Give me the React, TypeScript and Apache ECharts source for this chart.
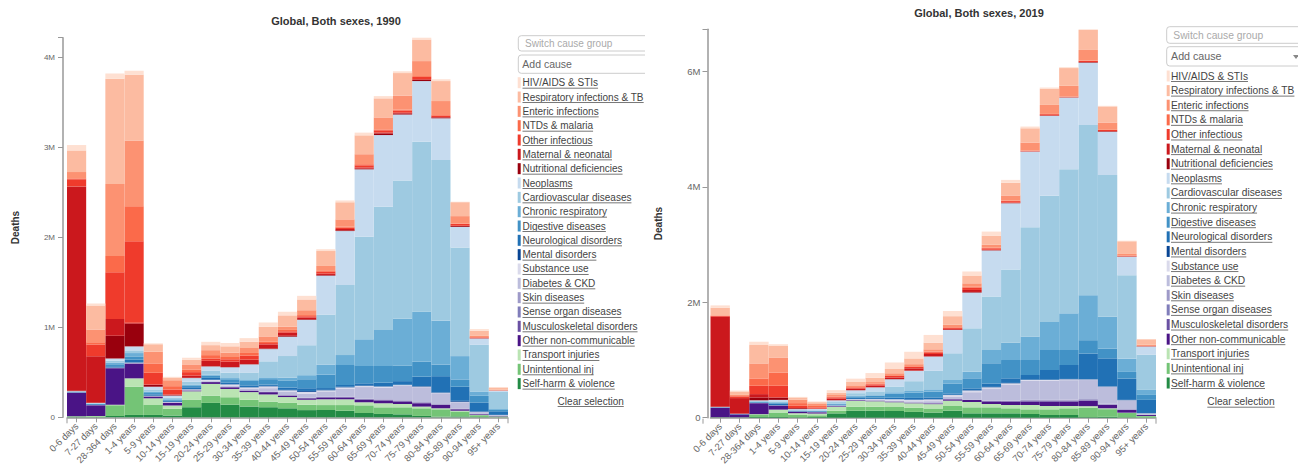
import React, { useEffect, useRef } from 'react';
import * as echarts from 'echarts';

const ages = ['0-6 days', '7-27 days', '28-364 days', '1-4 years', '5-9 years', '10-14 years', '15-19 years', '20-24 years', '25-29 years', '30-34 years', '35-39 years', '40-44 years', '45-49 years', '50-54 years', '55-59 years', '60-64 years', '65-69 years', '70-74 years', '75-79 years', '80-84 years', '85-89 years', '90-94 years', '95+ years'];

const causes = ['HIV/AIDS & STIs', 'Respiratory infections & TB', 'Enteric infections', 'NTDs & malaria', 'Other infectious', 'Maternal & neonatal', 'Nutritional deficiencies', 'Neoplasms', 'Cardiovascular diseases', 'Chronic respiratory', 'Digestive diseases', 'Neurological disorders', 'Mental disorders', 'Substance use', 'Diabetes & CKD', 'Skin diseases', 'Sense organ diseases', 'Musculoskeletal disorders', 'Other non-communicable', 'Transport injuries', 'Unintentional inj', 'Self-harm & violence'];

const causeColors = ['#fee0d2', '#fcbba1', '#fc9272', '#fb6a4a', '#ef3b2c', '#cb181d', '#99000d', '#c6dbef', '#9ecae1', '#6baed6', '#4292c6', '#2171b5', '#084594', '#dadaeb', '#bcbddc', '#9e9ac8', '#807dba', '#6a51a3', '#4a1486', '#bae4b3', '#74c476', '#238b45'];

// 1990 deaths, millions
const hiv1990 = [0.06, 0.022, 0.06, 0.046, 0.01, 0.008, 0.023, 0.037, 0.037, 0.04, 0.048, 0.04, 0.04, 0.02, 0.02, 0.03, 0.025, 0.02, 0.02, 0.02, 0.005, 0.018, 0.003];
const resp1990 = [0.24, 0.267, 1.17, 0.73, 0.083, 0.03, 0.051, 0.056, 0.07, 0.07, 0.107, 0.125, 0.12, 0.166, 0.19, 0.21, 0.212, 0.25, 0.24, 0.222, 0.155, 0.057, 0.025];
const enteric1990 = [0.07, 0.141, 0.8, 0.73, 0.13, 0.066, 0.06, 0.055, 0.049, 0.055, 0.056, 0.037, 0.054, 0.055, 0.082, 0.111, 0.133, 0.156, 0.167, 0.155, 0.082, 0.015, 0.005];
const ntd1990 = [0.01, 0.026, 0.18, 0.39, 0.104, 0.037, 0.026, 0.037, 0.025, 0.03, 0.018, 0.015, 0.013, 0.01, 0.01, 0.012, 0.01, 0.01, 0.01, 0.008, 0.005, 0.002, 0];
const otherInf1990 = [0.08, 0.13, 0.52, 0.905, 0.13, 0.056, 0.037, 0.026, 0.026, 0.044, 0.015, 0.015, 0.013, 0.02, 0.015, 0.025, 0.025, 0.025, 0.025, 0.015, 0.02, 0.008, 0.003];
const maternal1990 = [2.27, 0.517, 0.186, 0.01, 0.005, 0.005, 0.026, 0.06, 0.06, 0.05, 0.045, 0.035, 0.02, 0.015, 0.015, 0.012, 0.01, 0.008, 0.008, 0.004, 0.002, 0.001, 0];
const nutrition1990 = [0.005, 0.002, 0.252, 0.253, 0.02, 0.006, 0.003, 0.003, 0.003, 0.003, 0.007, 0.01, 0.007, 0.007, 0.008, 0.008, 0.018, 0.012, 0.012, 0.01, 0.01, 0.003, 0.001];
const neoplasms1990 = [0.002, 0.003, 0.026, 0.044, 0.03, 0.025, 0.04, 0.045, 0.06, 0.09, 0.136, 0.215, 0.282, 0.433, 0.6, 0.749, 0.797, 0.733, 0.674, 0.463, 0.229, 0.071, 0.015];
const cardio1990 = [0.003, 0.003, 0.019, 0.03, 0.025, 0.015, 0.035, 0.045, 0.06, 0.076, 0.178, 0.241, 0.333, 0.556, 0.778, 1.14, 1.37, 1.537, 1.889, 1.785, 1.208, 0.518, 0.19];
const chronicResp1990 = [0.002, 0.003, 0.019, 0.037, 0.015, 0.008, 0.012, 0.012, 0.013, 0.017, 0.02, 0.03, 0.045, 0.111, 0.111, 0.297, 0.4, 0.519, 0.556, 0.489, 0.259, 0.048, 0.01];
const digestive1990 = [0.003, 0.005, 0.022, 0.037, 0.015, 0.01, 0.015, 0.025, 0.035, 0.05, 0.06, 0.08, 0.1, 0.15, 0.222, 0.192, 0.185, 0.174, 0.166, 0.129, 0.081, 0.074, 0.015];
const neuro1990 = [0.005, 0.008, 0.015, 0.03, 0.015, 0.012, 0.02, 0.02, 0.02, 0.02, 0.015, 0.025, 0.03, 0.02, 0.02, 0.024, 0.04, 0.04, 0.105, 0.18, 0.157, 0.1, 0.04];
const mental1990 = [0, 0, 0.001, 0.003, 0.002, 0.002, 0.003, 0.003, 0.003, 0.003, 0.005, 0.005, 0.01, 0.005, 0.006, 0.006, 0.004, 0.004, 0.006, 0.005, 0.01, 0.005, 0.002];
const substance1990 = [0, 0, 0, 0.001, 0.001, 0.002, 0.005, 0.01, 0.012, 0.012, 0.02, 0.018, 0.02, 0.012, 0.015, 0.012, 0.01, 0.008, 0.006, 0.004, 0.005, 0.002, 0.001];
const diabetes1990 = [0.002, 0.001, 0.003, 0.005, 0.004, 0.004, 0.005, 0.01, 0.015, 0.02, 0.04, 0.035, 0.045, 0.06, 0.09, 0.13, 0.13, 0.16, 0.165, 0.12, 0.07, 0.02, 0.008];
const skin1990 = [0.002, 0.001, 0.002, 0.002, 0.001, 0.001, 0.002, 0.002, 0.002, 0.002, 0.002, 0.003, 0.003, 0.003, 0.003, 0.005, 0.006, 0.006, 0.006, 0.006, 0.005, 0.003, 0.001];
const senseOrgan1990 = [0, 0, 0, 0, 0, 0, 0, 0, 0, 0, 0, 0, 0, 0, 0, 0, 0, 0, 0, 0, 0, 0, 0];
const musculo1990 = [0, 0, 0.001, 0.002, 0.001, 0.002, 0.002, 0.002, 0.003, 0.003, 0.003, 0.004, 0.005, 0.005, 0.005, 0.008, 0.01, 0.01, 0.008, 0.005, 0.005, 0.002, 0.001];
const otherNcd1990 = [0.26, 0.12, 0.406, 0.164, 0.02, 0.03, 0.008, 0.02, 0.018, 0.015, 0.025, 0.015, 0.015, 0.02, 0.02, 0.026, 0.029, 0.026, 0.037, 0.037, 0.015, 0.008, 0.004];
const transport1990 = [0.001, 0.002, 0.005, 0.092, 0.074, 0.037, 0.096, 0.13, 0.092, 0.085, 0.08, 0.065, 0.055, 0.064, 0.064, 0.034, 0.045, 0.037, 0.019, 0.011, 0.008, 0.002, 0.001];
const unintentional1990 = [0.008, 0.01, 0.12, 0.315, 0.111, 0.074, 0.081, 0.081, 0.082, 0.075, 0.062, 0.06, 0.06, 0.055, 0.063, 0.085, 0.074, 0.078, 0.085, 0.082, 0.055, 0.02, 0.008];
const selfHarm1990 = [0.003, 0.003, 0.015, 0.026, 0.026, 0.02, 0.112, 0.16, 0.141, 0.12, 0.112, 0.1, 0.08, 0.081, 0.073, 0.048, 0.037, 0.033, 0.015, 0.007, 0.01, 0.003, 0.001];

// 2019 deaths, millions
const hiv2019 = [0.04, 0.015, 0.057, 0.03, 0.01, 0.012, 0.045, 0.058, 0.081, 0.114, 0.115, 0.134, 0.09, 0.07, 0.07, 0.05, 0.03, 0.02, 0.015, 0.012, 0.01, 0.01, 0.003];
const resp2019 = [0.13, 0.06, 0.319, 0.2, 0.04, 0.03, 0.04, 0.058, 0.075, 0.076, 0.1, 0.115, 0.15, 0.135, 0.16, 0.22, 0.248, 0.281, 0.308, 0.346, 0.279, 0.22, 0.095];
const enteric2019 = [0.01, 0.02, 0.26, 0.26, 0.058, 0.035, 0.025, 0.029, 0.03, 0.035, 0.035, 0.04, 0.04, 0.06, 0.05, 0.09, 0.139, 0.156, 0.186, 0.185, 0.127, 0.03, 0.02];
const ntd2019 = [0.002, 0.005, 0.127, 0.23, 0.046, 0.025, 0.015, 0.01, 0.01, 0.01, 0.012, 0.012, 0.01, 0.015, 0.01, 0.008, 0.005, 0.005, 0.004, 0.004, 0.003, 0.002, 0];
const otherInf2019 = [0.015, 0.03, 0.145, 0.2, 0.04, 0.02, 0.02, 0.018, 0.02, 0.025, 0.025, 0.03, 0.02, 0.04, 0.025, 0.025, 0.008, 0.02, 0.008, 0.02, 0.02, 0.01, 0.005];
const maternal2019 = [1.56, 0.27, 0.058, 0.005, 0.003, 0.003, 0.03, 0.027, 0.03, 0.03, 0.04, 0.04, 0.015, 0.035, 0.006, 0.005, 0.002, 0.002, 0.001, 0.001, 0.001, 0.001, 0];
const nutrition2019 = [0.002, 0.001, 0.05, 0.04, 0.015, 0.005, 0.002, 0.002, 0.002, 0.003, 0.003, 0.004, 0.005, 0.01, 0.006, 0.007, 0.002, 0.008, 0.004, 0.01, 0.01, 0.005, 0.004];
const neoplasms2019 = [0.002, 0.001, 0.008, 0.025, 0.015, 0.02, 0.03, 0.05, 0.07, 0.125, 0.18, 0.248, 0.403, 0.62, 0.8, 1.15, 1.314, 1.386, 1.243, 1.083, 0.747, 0.32, 0.145];
const cardio2019 = [0.002, 0.001, 0.01, 0.015, 0.008, 0.01, 0.025, 0.045, 0.065, 0.1, 0.17, 0.32, 0.463, 0.752, 0.926, 1.268, 1.895, 2.186, 2.498, 2.949, 2.46, 1.446, 0.608];
const chronicResp2019 = [0.001, 0.001, 0.008, 0.012, 0.005, 0.004, 0.008, 0.01, 0.01, 0.025, 0.03, 0.04, 0.06, 0.115, 0.23, 0.3, 0.405, 0.486, 0.636, 0.78, 0.551, 0.231, 0.087];
const digestive2019 = [0.002, 0.003, 0.01, 0.012, 0.005, 0.006, 0.01, 0.025, 0.035, 0.07, 0.09, 0.1, 0.172, 0.174, 0.35, 0.317, 0.26, 0.347, 0.26, 0.231, 0.17, 0.115, 0.086];
const neuro2019 = [0.005, 0.005, 0.01, 0.028, 0.008, 0.01, 0.013, 0.02, 0.02, 0.025, 0.03, 0.03, 0.025, 0.03, 0.06, 0.08, 0.08, 0.167, 0.242, 0.445, 0.485, 0.37, 0.23];
const mental2019 = [0, 0, 0, 0.002, 0.001, 0.001, 0.002, 0.003, 0.003, 0.003, 0.004, 0.005, 0.004, 0.007, 0.007, 0.007, 0.006, 0.006, 0.006, 0.005, 0.006, 0.006, 0.002];
const substance2019 = [0, 0, 0, 0, 0, 0.001, 0.006, 0.01, 0.015, 0.02, 0.025, 0.03, 0.025, 0.03, 0.03, 0.02, 0.015, 0.015, 0.015, 0.01, 0.005, 0.003, 0.001];
const diabetes2019 = [0.002, 0.001, 0.002, 0.003, 0.002, 0.003, 0.004, 0.006, 0.01, 0.015, 0.02, 0.035, 0.045, 0.128, 0.2, 0.28, 0.33, 0.33, 0.34, 0.33, 0.29, 0.15, 0.022];
const skin2019 = [0.001, 0, 0.001, 0.001, 0.001, 0.001, 0.001, 0.001, 0.001, 0.001, 0.001, 0.002, 0.002, 0.003, 0.007, 0.008, 0.01, 0.012, 0.015, 0.02, 0.015, 0.012, 0.006];
const senseOrgan2019 = [0, 0, 0, 0, 0, 0, 0, 0, 0, 0, 0, 0, 0, 0, 0, 0, 0, 0, 0, 0, 0, 0, 0];
const musculo2019 = [0, 0, 0, 0.001, 0.001, 0.001, 0.002, 0.002, 0.002, 0.002, 0.003, 0.003, 0.003, 0.004, 0.012, 0.01, 0.021, 0.019, 0.018, 0.011, 0.008, 0.005, 0.002];
const otherNcd2019 = [0.165, 0.05, 0.19, 0.07, 0.025, 0.022, 0.01, 0.01, 0.01, 0.01, 0.01, 0.012, 0.023, 0.035, 0.04, 0.058, 0.058, 0.075, 0.075, 0.092, 0.057, 0.046, 0.017];
const transport2019 = [0.001, 0.001, 0.005, 0.05, 0.03, 0.03, 0.07, 0.104, 0.095, 0.085, 0.08, 0.075, 0.092, 0.092, 0.058, 0.057, 0.075, 0.058, 0.04, 0.03, 0.015, 0.006, 0.002];
const unintentional2019 = [0.005, 0.005, 0.045, 0.078, 0.04, 0.03, 0.045, 0.069, 0.07, 0.07, 0.07, 0.07, 0.081, 0.104, 0.104, 0.087, 0.081, 0.098, 0.116, 0.16, 0.133, 0.075, 0.025];
const selfHarm2019 = [0.002, 0.001, 0.012, 0.012, 0.008, 0.012, 0.075, 0.12, 0.12, 0.115, 0.1, 0.09, 0.122, 0.076, 0.076, 0.076, 0.064, 0.047, 0.047, 0.01, 0.015, 0.006, 0.002];

const deaths1990 = [hiv1990, resp1990, enteric1990, ntd1990, otherInf1990, maternal1990, nutrition1990, neoplasms1990, cardio1990, chronicResp1990, digestive1990, neuro1990, mental1990, substance1990, diabetes1990, skin1990, senseOrgan1990, musculo1990, otherNcd1990, transport1990, unintentional1990, selfHarm1990];
const deaths2019 = [hiv2019, resp2019, enteric2019, ntd2019, otherInf2019, maternal2019, nutrition2019, neoplasms2019, cardio2019, chronicResp2019, digestive2019, neuro2019, mental2019, substance2019, diabetes2019, skin2019, senseOrgan2019, musculo2019, otherNcd2019, transport2019, unintentional2019, selfHarm2019];

const FAM = '"Liberation Sans", Arial, sans-serif';

let measureCtx: CanvasRenderingContext2D | null = null;
function measure(text: string, size: number, weight = 'normal') {
  if (!measureCtx) measureCtx = document.createElement('canvas').getContext('2d');
  if (!measureCtx) return text.length * size * 0.5;
  measureCtx.font = `${weight} ${size}px ${FAM}`;
  return measureCtx.measureText(text).width;
}

function txt(x: number, y: number, text: string, size: number, fill: string, align = 'left', weight = 'normal') {
  return {
    type: 'text', x, y, silent: true,
    style: { text, fill, fontSize: size, fontFamily: FAM, fontWeight: weight, textAlign: align, textVerticalAlign: 'middle', align, verticalAlign: 'middle' },
  };
}

function makeOption(p: any) {
  const series = causes.map((name, i) => ({
    name, type: 'bar', stack: 'deaths', data: p.data[i],
    itemStyle: { color: causeColors[i] },
    barCategoryGap: '0%', barGap: '0%', silent: true,
  })).reverse();

  const gBottom = p.gridTop + p.gridHeight;
  const g: any[] = [];
  g.push(txt(p.titleX, p.titleY, p.title, 11, '#333', 'center', 'bold'));
  g.push({ type: 'rect', silent: true, shape: { x: p.boxX, y: p.box1Y, width: 220, height: p.box1H, r: 3 }, style: { fill: '#fff', stroke: '#ccc', lineWidth: 1 } });
  g.push({ type: 'rect', silent: true, shape: { x: p.boxX, y: p.box2Y, width: 220, height: p.box2H, r: 3 }, style: { fill: '#fff', stroke: '#ccc', lineWidth: 1 } });
  g.push(txt(p.switchX, p.box1Y + p.box1H / 2, 'Switch cause group', p.switchFont, '#aaa'));
  g.push(txt(p.addX, p.box2Y + p.box2H / 2, 'Add cause', p.addFont, '#666'));
  if (p.caret) {
    g.push({ type: 'polygon', silent: true, shape: { points: [[p.caret[0], p.caret[1]], [p.caret[0] + 6, p.caret[1]], [p.caret[0] + 3, p.caret[1] + 4]] }, style: { fill: '#888' } });
  }
  causes.forEach((c, i) => {
    const cy = p.legY0 + i * p.legPitch;
    g.push({ type: 'rect', silent: true, shape: { x: p.legX, y: cy - 5.5, width: 3, height: 11 }, style: { fill: causeColors[i] } });
    g.push(txt(p.legTextX, cy, c, p.legFont, '#444'));
    const w = measure(c, p.legFont);
    g.push({ type: 'line', silent: true, shape: { x1: p.legTextX, y1: cy + 5.5, x2: p.legTextX + w, y2: cy + 5.5 }, style: { stroke: '#777', lineWidth: 1 } });
  });
  const cw = measure('Clear selection', p.legFont);
  g.push(txt(p.clearX, p.clearY, 'Clear selection', p.legFont, '#444', 'center'));
  g.push({ type: 'line', silent: true, shape: { x1: p.clearX - cw / 2, y1: p.clearY + 5.5, x2: p.clearX + cw / 2, y2: p.clearY + 5.5 }, style: { stroke: '#777', lineWidth: 1 } });
  // outer ticks at both ends of the x axis
  [p.gridLeft, p.gridLeft + p.gridWidth].forEach((x) => {
    g.push({ type: 'line', silent: true, shape: { x1: x, y1: gBottom + 1, x2: x, y2: gBottom + 6 }, style: { stroke: '#999', lineWidth: 1 } });
  });

  return {
    animation: false,
    grid: { left: p.gridLeft, top: p.gridTop, width: p.gridWidth, height: p.gridHeight },
    xAxis: {
      type: 'category', data: ages, boundaryGap: true,
      axisLine: { show: true, lineStyle: { color: '#999', width: 1.5 } },
      axisTick: { show: true, alignWithLabel: true, length: 5, lineStyle: { color: '#999' } },
      axisLabel: { interval: 0, rotate: 45, fontSize: 9.5, color: '#666', fontFamily: FAM, margin: 7 },
    },
    yAxis: {
      type: 'value', min: 0, max: (v: any) => v.max, interval: p.interval, offset: p.yOffset,
      name: 'Deaths', nameLocation: 'middle', nameGap: p.nameGap,
      nameTextStyle: { fontWeight: 'bold', fontSize: 10, color: '#333', fontFamily: FAM },
      splitLine: { show: false },
      axisLine: { show: true, lineStyle: { color: '#999', width: 1.5 } },
      axisTick: { show: true, length: 5, lineStyle: { color: '#999' } },
      axisLabel: {
        fontSize: p.tickFont, color: '#666', fontFamily: FAM, margin: p.labelMargin,
        formatter: (v: number) => {
          if (v === 0) return '0';
          const r = Math.round(v * 1000) / 1000;
          return Math.abs(r / p.interval - Math.round(r / p.interval)) < 1e-6 ? `${Math.round(r)}M` : '';
        },
      },
    },
    series,
    graphic: g,
  };
}

const leftCfg = {
  data: deaths1990, title: 'Global, Both sexes, 1990', titleX: 336, titleY: 21,
  gridLeft: 67, gridTop: 37.7, gridWidth: 441, gridHeight: 379.6, yOffset: 4, interval: 1,
  nameGap: 43, tickFont: 8, labelMargin: 8,
  boxX: 518.3, box1Y: 35.7, box1H: 15.3, box2Y: 55, box2H: 18.3,
  switchX: 525, switchFont: 10, addX: 522.3, addFont: 10.5, caret: null,
  legX: 517.7, legTextX: 522.5, legY0: 82.7, legPitch: 14.33, legFont: 10,
  clearX: 590.7, clearY: 401,
};

const rightCfg = {
  data: deaths2019, title: 'Global, Both sexes, 2019', titleX: 334, titleY: 13,
  gridLeft: 58, gridTop: 29.3, gridWidth: 453, gridHeight: 388.4, yOffset: 3, interval: 2,
  nameGap: 44.5, tickFont: 9.5, labelMargin: 7,
  boxX: 521.7, box1Y: 26.7, box1H: 16.6, box2Y: 46.7, box2H: 19.3,
  switchX: 528.3, switchFont: 10.3, addX: 526, addFont: 10.7, caret: [648, 55],
  legX: 521.7, legTextX: 526, legY0: 76, legPitch: 14.62, legFont: 10.2,
  clearX: 596, clearY: 401.7,
};

export default function App() {
  const leftRef = useRef<HTMLDivElement>(null);
  const rightRef = useRef<HTMLDivElement>(null);
  useEffect(() => {
    const l = echarts.init(leftRef.current as HTMLDivElement, null, { renderer: 'svg' });
    l.setOption(makeOption(leftCfg) as any);
    const r = echarts.init(rightRef.current as HTMLDivElement, null, { renderer: 'svg' });
    r.setOption(makeOption(rightCfg) as any);
    return () => { l.dispose(); r.dispose(); };
  }, []);
  return (
    <div style={{ position: 'absolute', left: 0, top: 0, width: 1298, height: 472, background: '#fff', overflow: 'hidden' }}>
      <div ref={leftRef} style={{ position: 'absolute', left: 0, top: 0, width: 645, height: 472, overflow: 'hidden' }} />
      <div ref={rightRef} style={{ position: 'absolute', left: 645, top: 0, width: 653, height: 472, overflow: 'hidden' }} />
    </div>
  );
}
